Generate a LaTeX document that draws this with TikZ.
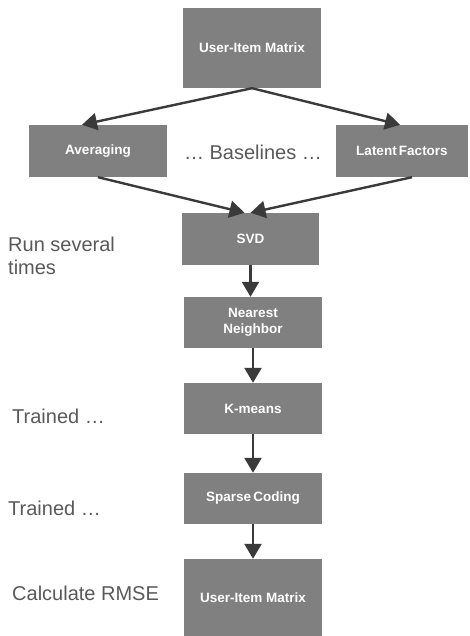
\documentclass[tikz,border=0pt]{standalone}
\usepackage{fontspec}
\setmainfont{Liberation Sans}
\usetikzlibrary{arrows.meta}
\definecolor{boxgray}{HTML}{808080}
\definecolor{arrowgray}{HTML}{3A3A3A}
\definecolor{textgray}{HTML}{595959}
\begin{document}
\begin{tikzpicture}[x=1pt,y=-1pt,
  box/.style={fill=boxgray,draw=none,text=white,font=\fontsize{13.5}{16}\selectfont\bfseries,align=center,inner sep=0pt,minimum width=138pt,minimum height=52pt},
  note/.style={text=textgray,font=\fontsize{20}{23}\selectfont,anchor=west,inner sep=0pt,align=left},
  conn/.style={draw=arrowgray,line width=2.4pt,-{Triangle[length=15pt,width=17pt]}}]
\useasboundingbox (0,0) rectangle (470,636);
\node[box,minimum height=80pt] (top) at (252,48) {User-Item Matrix};
\node[box] (avg) at (98,151) {Averaging};
\node[box,minimum width=132pt] (lat) at (402,151) {Latent\,Factors};
\node[text=textgray,font=\fontsize{20}{23}\selectfont,inner sep=0pt] (base) at (253,152) {\dots\ Baselines \dots};
\node[box,minimum width=137pt] (svd) at (250.5,239) {SVD};
\node[box,minimum height=51pt] (nn) at (253,322.5) {Nearest\\Neighbor};
\node[box,minimum height=51pt] (km) at (253,408.5) {K-means};
\node[box,minimum height=51pt] (sc) at (253,498.5) {Sparse\,Coding};
\node[box,minimum height=77pt] (bot) at (253,597.5) {User-Item Matrix};
\node[note] (n1) at (8,256) {Run several\\times};
\node[note] (n2) at (12,416) {Trained \dots};
\node[note] (n3) at (8,508) {Trained \dots};
\node[note] (n4) at (12,593) {Calculate RMSE};
\draw[conn] (top.south) -- ([xshift=-16pt]avg.north);
\draw[conn] (top.south) -- ([xshift=-2pt]lat.north);
\draw[conn] (avg.south) -- ([xshift=-6pt]svd.north);
\draw[conn] ([xshift=10pt]lat.south) -- ([xshift=0pt]svd.north);
\draw[conn] (svd.south) -- (svd.south |- nn.north);
\draw[conn] (nn.south) -- (km.north);
\draw[conn] (km.south) -- (sc.north);
\draw[conn] (sc.south) -- (bot.north);
\end{tikzpicture}
\end{document}
